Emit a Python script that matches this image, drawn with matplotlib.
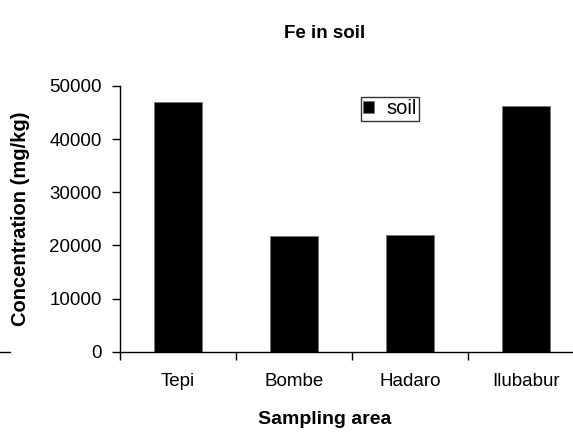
import numpy as np
import matplotlib
matplotlib.use("Agg")
from matplotlib import pyplot as plt
from matplotlib.lines import Line2D

plt.rcParams['font.family'] = ['Liberation Sans', 'DejaVu Sans']

# Fe concentration per sampling site
sites = ['Tepi', 'Bombe', 'Hadaro', 'Ilubabur']
fe_soil = [46900, 21800, 21900, 46300]
y_ticks = [0, 10000, 20000, 30000, 40000, 50000]

W, H = 573, 436
fs = 13.5
fig = plt.figure(figsize=(W / 100, H / 100), dpi=100)
ax = fig.add_axes([120 / W, (H - 351.7) / H, 464 / W, 265.7 / H])

x = np.arange(len(sites))
ax.bar(x, fe_soil, width=0.42, color='black', edgecolor='#777777', linewidth=0.6, label='soil')

ax.set_xlim(-0.5, len(sites) - 0.5)
ax.set_ylim(0, 50000)
ax.set_yticks(y_ticks)
ax.set_yticklabels([str(v) for v in y_ticks], fontsize=fs)

# category boundaries get the ticks, labels sit between them
ax.set_xticks(np.arange(len(sites) + 1) - 0.5)
ax.set_xticklabels([])
ax.set_xticks(x, minor=True)
ax.set_xticklabels(sites, minor=True, fontsize=fs)
ax.tick_params(axis='x', which='major', direction='out', length=6, width=1)
ax.tick_params(axis='x', which='minor', length=0, pad=15)
ax.tick_params(axis='y', direction='out', length=6, width=1, pad=7)

for s in ['top', 'right']:
    ax.spines[s].set_visible(False)
for s in ['left', 'bottom']:
    ax.spines[s].set_linewidth(1)

ax.set_ylabel('Concentration (mg/kg)', fontsize=14.5, fontweight='bold')
ax.yaxis.set_label_coords(30 / W, 0.5 * (2 * H - 351.7 - 86) / H, transform=fig.transFigure)
ax.set_xlabel('Sampling area', fontsize=14, fontweight='bold', va='center')
ax.xaxis.set_label_coords(325 / W, 1 - 419 / H, transform=fig.transFigure)
fig.text(325 / W, 1 - 33 / H, 'Fe in soil', ha='center', va='center',
         fontsize=13.5, fontweight='bold')

leg = ax.legend(loc='upper left', bbox_to_anchor=(361 / W, 1 - 97 / H),
                bbox_transform=fig.transFigure, fontsize=14.5, frameon=True,
                fancybox=False, handlelength=0.55, handleheight=0.55,
                handletextpad=0.6, borderpad=0.12, borderaxespad=0)
leg.get_frame().set_edgecolor('black')
leg.get_frame().set_linewidth(1)

# short stub left of the plot
fig.add_artist(Line2D([0, 10 / W], [(H - 351.5) / H] * 2, color='black', lw=1))

fig.savefig('out.png', dpi=100)
